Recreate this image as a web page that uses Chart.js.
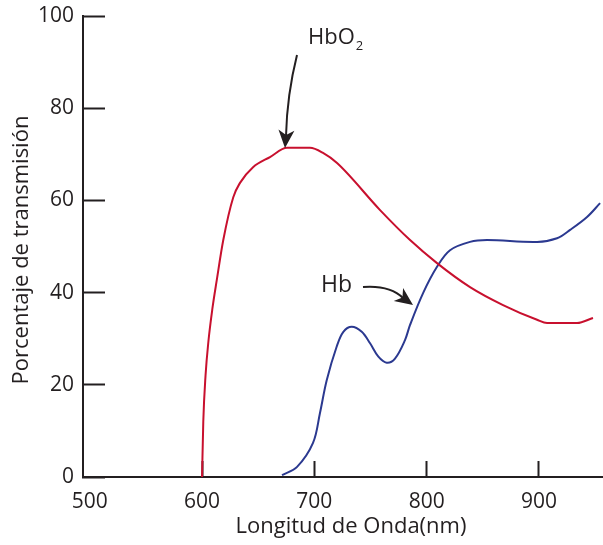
<!DOCTYPE html>
<html>
<head>
<meta charset="utf-8">
<script src="https://cdn.jsdelivr.net/npm/chart.js@4.4.1/dist/chart.umd.min.js"></script>
<style>
  body { margin: 0; background: #fff; }
</style>
</head>
<body>
<canvas id="grafico" width="603" height="545"></canvas>
<script>
// Datos
const hbo2Onda = [600, 601.1, 603.1, 605.7, 609.2, 613.1, 618.9, 627.8, 633.8, 645.4, 660.5, 675.7, 696.1, 707.7, 720.2, 758.5, 785.2, 809.2, 838.6, 868, 898.3, 907.2, 933.9, 948.1];
const hbo2Trans = [0, 12, 22, 29.5, 36.5, 42.7, 51.4, 60.7, 63.8, 67.2, 69.4, 71.4, 71.4, 70.3, 68.1, 57.9, 51.4, 46.4, 41.2, 37.3, 34.1, 33.4, 33.4, 34.5];

const hbOnda = [671.2, 684.6, 698.8, 705, 711, 719.9, 725.8, 733.3, 742.2, 749.6, 757, 764.4, 771.8, 780.7, 785.2, 796.8, 809.2, 820.8, 838.6, 853.8, 898.3, 916.1, 927.7, 942.8, 954.4];
const hbTrans = [0.4, 2.2, 7.4, 13.9, 21, 28.3, 31.5, 32.6, 31.5, 29, 26.1, 24.8, 25.7, 29.7, 33, 39.9, 45.6, 49.2, 51, 51.4, 51, 51.8, 53.6, 56.4, 59.4];

const ticksX = [500, 600, 700, 800, 900];

const FUENTE = 'Open Sans';
const NEGRO = '#231f20';

function juntar(xs, ys) {
    return xs.map((x, i) => ({ x: x, y: ys[i] }));
}

// Flechas, etiquetas HbO2 / Hb y títulos de los ejes
const anotaciones = {
    id: 'anotaciones',
    afterDraw(chart) {
        const ctx = chart.ctx;
        ctx.save();
        ctx.fillStyle = NEGRO;
        ctx.strokeStyle = NEGRO;
        ctx.lineWidth = 2;

        function punta(tx, ty, dx, dy) {
            const len = Math.hypot(dx, dy);
            dx /= len; dy /= len;
            const nx = -dy, ny = dx;
            const L = 18, W = 8, N = 5;
            ctx.beginPath();
            ctx.moveTo(tx, ty);
            ctx.lineTo(tx - L * dx + W * nx, ty - L * dy + W * ny);
            ctx.lineTo(tx - (L - N) * dx, ty - (L - N) * dy);
            ctx.lineTo(tx - L * dx - W * nx, ty - L * dy - W * ny);
            ctx.closePath();
            ctx.fill();
        }

        // HbO2
        ctx.beginPath();
        ctx.moveTo(297, 55);
        ctx.quadraticCurveTo(287, 95, 286, 136);
        ctx.stroke();
        punta(285, 148, -0.08, 1);

        // Hb
        ctx.beginPath();
        ctx.moveTo(363, 287);
        ctx.quadraticCurveTo(390, 285, 403, 298);
        ctx.stroke();
        punta(413, 305, 18, 13);

        ctx.font = `22px "${FUENTE}"`;
        ctx.textBaseline = 'alphabetic';
        ctx.textAlign = 'left';
        ctx.fillText('HbO', 308, 44);
        const w = ctx.measureText('HbO').width;
        ctx.font = `13px "${FUENTE}"`;
        ctx.fillText('2', 308 + w + 1, 50);
        ctx.font = `23px "${FUENTE}"`;
        ctx.fillText('Hb', 321, 292);

        ctx.font = `22px "${FUENTE}"`;
        ctx.textAlign = 'center';
        ctx.textBaseline = 'middle';
        ctx.fillText('Longitud de Onda(nm)', 351, 527);

        ctx.translate(22, 250);
        ctx.rotate(-Math.PI / 2);
        ctx.fillText('Porcentaje de transmisión', 0, 0);
        ctx.restore();
    }
};

new Chart(document.getElementById('grafico'), {
    type: 'line',
    data: {
        datasets: [
            {
                label: 'HbO2',
                data: juntar(hbo2Onda, hbo2Trans),
                borderColor: '#c8102e',
                borderWidth: 2,
                pointRadius: 0,
                cubicInterpolationMode: 'monotone',
                fill: false
            },
            {
                label: 'Hb',
                data: juntar(hbOnda, hbTrans),
                borderColor: '#2b3990',
                borderWidth: 2,
                pointRadius: 0,
                tension: 0.35,
                fill: false
            }
        ]
    },
    options: {
        responsive: false,
        animation: false,
        layout: { padding: { top: 16, right: 0, left: 0, bottom: 0 } },
        plugins: {
            legend: { display: false },
            tooltip: { enabled: false }
        },
        scales: {
            x: {
                type: 'linear',
                min: 494,
                max: 957,
                afterBuildTicks: (scale) => {
                    scale.ticks = ticksX.map(v => ({ value: v }));
                },
                afterFit: (scale) => { scale.height = 68; },
                border: { color: NEGRO, width: 2 },
                grid: {
                    drawOnChartArea: false,
                    drawTicks: true,
                    tickLength: -16,
                    tickWidth: 2,
                    tickColor: (c) => (c.tick && c.tick.value === 500) ? 'rgba(0,0,0,0)' : NEGRO
                },
                ticks: {
                    padding: 28,
                    color: NEGRO,
                    maxRotation: 0,
                    font: { family: FUENTE, size: 21 }
                }
            },
            y: {
                min: 0,
                max: 100,
                ticks: {
                    stepSize: 20,
                    padding: 31,
                    color: NEGRO,
                    font: { family: FUENTE, size: 21 }
                },
                afterFit: (scale) => {
                    scale.width = 83;
                    scale.paddingTop = 0;
                    scale.paddingBottom = 0;
                },
                border: { color: NEGRO, width: 2 },
                grid: {
                    drawOnChartArea: false,
                    drawTicks: true,
                    tickLength: -22,
                    tickWidth: 2,
                    tickColor: NEGRO
                }
            }
        }
    },
    plugins: [anotaciones]
});
</script>
</body>
</html>
